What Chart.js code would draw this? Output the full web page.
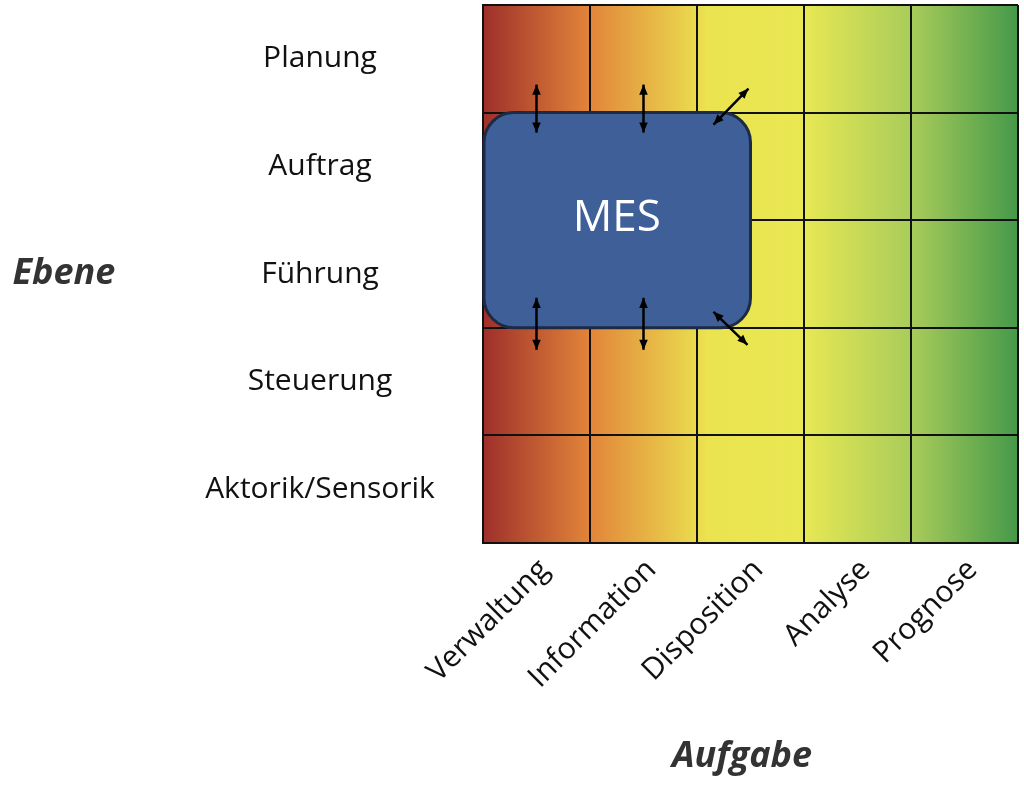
<!DOCTYPE html>
<html><head><meta charset="utf-8">
<script src="https://cdn.jsdelivr.net/npm/chart.js@4/dist/chart.umd.min.js"></script>
<style>html,body{margin:0;background:#fff}</style>
</head><body>
<canvas id="c" width="1024" height="789"></canvas>
<script>
const tasks = ["Verwaltung","Information","Disposition","Analyse","Prognose"];
const levels = ["Planung","Auftrag","Führung","Steuerung","Aktorik/Sensorik"];
const xTitle = "Aufgabe";
const yTitle = "Ebene";
const mesLabel = "MES";
// MES box extent in category units: [xFrom, xTo], [yFrom level, yTo level]
const mesX = [-0.5, 2.0];
const mesY = ["Auftrag", "Führung"];

const FONT = "'Open Sans', 'Noto Sans', sans-serif";

function arrow(ctx, x1, y1, x2, y2) {
  const a = Math.atan2(y2 - y1, x2 - x1), h = 11;
  ctx.beginPath(); ctx.moveTo(x1, y1); ctx.lineTo(x2, y2); ctx.stroke();
  for (const [px, py, ang] of [[x2, y2, a], [x1, y1, a + Math.PI]]) {
    ctx.beginPath();
    ctx.moveTo(px, py);
    ctx.lineTo(px - h * Math.cos(ang - 0.4), py - h * Math.sin(ang - 0.4));
    ctx.lineTo(px - h * Math.cos(ang + 0.4), py - h * Math.sin(ang + 0.4));
    ctx.closePath(); ctx.fill();
  }
}

const bgPlugin = {
  id: 'bg',
  beforeDraw(chart) {
    const {ctx, chartArea: a} = chart;
    const g = ctx.createLinearGradient(a.left, 0, a.right, 0);
    g.addColorStop(0, '#9e2f2a');
    g.addColorStop(0.2, '#e2853a');
    g.addColorStop(0.42, '#ebe350');
    g.addColorStop(0.6, '#e8e853');
    g.addColorStop(0.8, '#a9cc5a');
    g.addColorStop(1, '#45994a');
    ctx.save(); ctx.fillStyle = g;
    ctx.fillRect(a.left, a.top, a.right - a.left, a.bottom - a.top);
    ctx.restore();
  },
  afterDraw(chart) {
    const {ctx, chartArea: a, scales: {x, y}} = chart;
    const cw = x.getPixelForValue(1) - x.getPixelForValue(0);
    const ch = y.getPixelForValue(1) - y.getPixelForValue(0);
    ctx.save();
    // labels
    ctx.fillStyle = '#111';
    ctx.font = `30px ${FONT}`;
    ctx.textAlign = 'center'; ctx.textBaseline = 'middle';
    levels.forEach((l, i) => ctx.fillText(l, 320, y.getPixelForValue(i)));
    tasks.forEach((t, i) => {
      ctx.save();
      ctx.translate(x.getPixelForValue(i) + 8, a.bottom + 22);
      ctx.rotate(-Math.PI / 4);
      ctx.textAlign = 'right';
      ctx.fillText(t, 0, 0);
      ctx.restore();
    });
    ctx.fillStyle = '#333';
    ctx.font = `italic bold 36px ${FONT}`;
    ctx.fillText(yTitle, 64, y.getPixelForValue(2));
    ctx.fillText(xTitle, 742, 757);
    // MES box
    const bx1 = x.getPixelForValue(0) + mesX[0] * cw + 0;
    const bx2 = x.getPixelForValue(0) + mesX[1] * cw;
    const by1 = y.getPixelForValue(levels.indexOf(mesY[0])) - ch / 2;
    const by2 = y.getPixelForValue(levels.indexOf(mesY[1])) + ch / 2;
    ctx.beginPath();
    ctx.roundRect(bx1 + 1, by1, bx2 - bx1 - 1, by2 - by1, 30);
    ctx.fillStyle = '#3f5f98'; ctx.fill();
    ctx.lineWidth = 3; ctx.strokeStyle = '#1c2b45'; ctx.stroke();
    ctx.fillStyle = '#fff';
    ctx.font = `44px ${FONT}`;
    ctx.fillText(mesLabel, (bx1 + bx2) / 2, by1 + ch - 2);
    // arrows
    ctx.strokeStyle = '#000'; ctx.fillStyle = '#000'; ctx.lineWidth = 2.5;
    [0, 1].forEach(i => {
      const cx = x.getPixelForValue(i);
      arrow(ctx, cx, by1 - 28, cx, by1 + 20);
      arrow(ctx, cx, by2 - 30, cx, by2 + 22);
    });
    arrow(ctx, bx2 - 37, by1 + 12, bx2 - 2, by1 - 24);
    arrow(ctx, bx2 - 37, by2 - 16, bx2 - 3, by2 + 17);
    ctx.restore();
  }
};

new Chart(document.getElementById('c'), {
  type: 'bar',
  data: { labels: tasks, datasets: [{ data: [], yAxisID: 'y' }] },
  options: {
    responsive: false, animation: false,
    layout: { padding: { left: 483, top: 5, right: 6, bottom: 246 } },
    plugins: { legend: { display: false }, tooltip: { enabled: false } },
    scales: {
      x: { type: 'category', labels: tasks, offset: true,
           grid: { offset: true, color: '#111', lineWidth: 2, drawTicks: false },
           border: { color: '#111', width: 2 }, ticks: { display: false } },
      y: { type: 'category', labels: levels, offset: true,
           grid: { offset: true, color: '#111', lineWidth: 2, drawTicks: false },
           border: { color: '#111', width: 2 }, ticks: { display: false } }
    }
  },
  plugins: [bgPlugin]
});
</script>
</body></html>
